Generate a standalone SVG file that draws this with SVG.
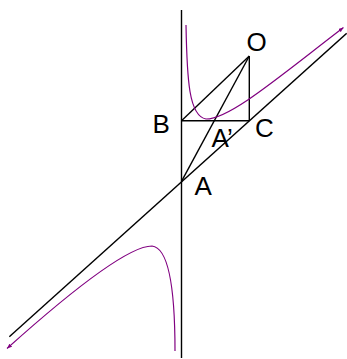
<svg xmlns="http://www.w3.org/2000/svg" width="347" height="359" viewBox="0 0 347 359">
<style>
.ln{stroke:#000;stroke-width:1.4;fill:none}
.cv{stroke:#800080;stroke-width:1.2;fill:none;marker-end:url(#ah)}
.lb{font-family:"Liberation Sans",Arial,sans-serif;font-size:26px;fill:#000}
</style>
<defs>
<marker id="ah" markerUnits="userSpaceOnUse" markerWidth="5" markerHeight="4" refX="5" refY="2" orient="auto">
<path d="M0,0 L5,2 L0,4 z" fill="#800080"/>
</marker>
</defs>
<rect width="347" height="359" fill="#fff"/>
<g id="connectors">
<line class="ln" x1="181.5" y1="10" x2="181.5" y2="358"/>
<line class="ln" x1="9.3" y1="336.7" x2="346.7" y2="33.3"/>
<line class="ln" x1="181.5" y1="120.7" x2="249.3" y2="120.7"/>
<line class="ln" x1="249.3" y1="56" x2="249.3" y2="120.7"/>
<line class="ln" x1="181.5" y1="120.7" x2="249.3" y2="56"/>
<line class="ln" x1="181.5" y1="181.3" x2="249.3" y2="56"/>
<path class="cv" d="M186,25 C187,80 189,116 206,119 C230,119 280,76 343.5,27.5"/>
<path class="cv" d="M175,351 C175,300 171,248 152,246 C128,246 70,292 7,348.5"/>
</g>
<g id="O"><text class="lb" x="246.5" y="51">O</text></g>
<g id="B"><text class="lb" x="152.5" y="133">B</text></g>
<g id="C"><text class="lb" x="255" y="137">C</text></g>
<g id="A"><text class="lb" x="194.5" y="195">A</text></g>
<g id="Aprime"><text class="lb" x="211.5" y="146.5">A’</text></g>
</svg>
